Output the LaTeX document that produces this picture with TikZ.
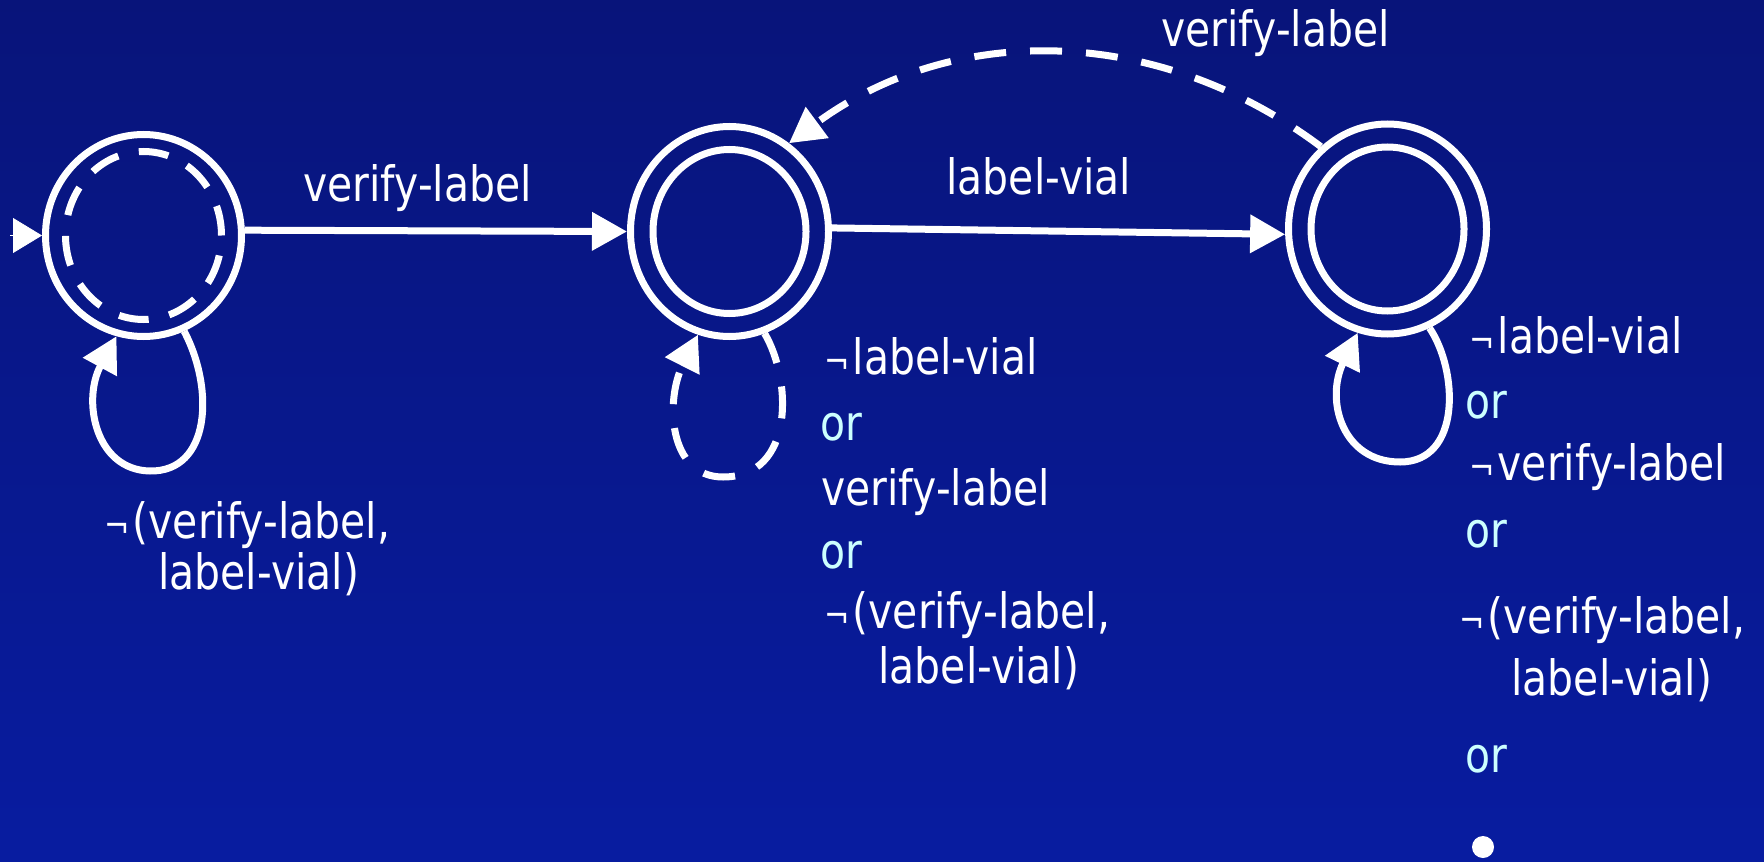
\documentclass[tikz,border=0pt]{standalone}
\usepackage{fontspec}
\setmainfont{DejaVu Sans}[FakeStretch=0.84]
\usetikzlibrary{arrows.meta,shapes.geometric}
\definecolor{bgtop}{RGB}{8,20,122}
\definecolor{bgbot}{RGB}{8,28,160}
\definecolor{orcol}{RGB}{204,255,255}
\newcommand\smallnot{{\fontsize{18pt}{20pt}\selectfont ¬}\hspace{1.5pt}}
\begin{document}
\begin{tikzpicture}[x=0.5pt,y=-0.5pt,
  stateouter/.style={ellipse, draw=white, line width=3.5pt, minimum width=99pt, minimum height=105pt, inner sep=0pt},
  stateinner/.style={ellipse, draw=white, line width=3.5pt, minimum width=76.5pt, minimum height=82pt, inner sep=0pt},
  dashedinner/.style={stateinner, dash pattern=on 15pt off 10.5pt},
  trans/.style={draw=white, line width=3.5pt, -{Triangle[length=17.5pt,width=18.5pt]}},
  dtrans/.style={trans, dash pattern=on 16pt off 12pt},
  lbl/.style={anchor=base west, inner sep=0pt, text=white, font=\fontsize{24.35pt}{30pt}\selectfont},
  orlbl/.style={lbl, text=orcol}
]
\shade[top color=bgtop, bottom color=bgbot] (0,0) rectangle (1764,861);
\useasboundingbox (0,0) rectangle (1764,861);

% states
\node[stateouter, minimum width=98pt, minimum height=101pt] (s1) at (143.5,235.5) {};
\node[dashedinner, minimum width=78pt, minimum height=84pt] (s1i) at (143.5,235.5) {};
\node[stateouter] (s2) at (729.5,231.5) {};
\node[stateinner] (s2i) at (729.5,231.5) {};
\node[stateouter] (s3) at (1387.5,229) {};
\node[stateinner] (s3i) at (1387.5,229) {};

% initial arrow
\coordinate (init) at (10,235.5);
\draw[draw=white, fill=white, line width=0.4pt, -{Triangle[length=14.5pt,width=17.5pt]}] (init) -- (s1.west);

% transitions
\draw[trans] (s1.3) -- (s2.west);
\node[lbl] (l12) at (303,201) {verify-label};
\draw[trans] (s2.2) -- (s3.183);
\node[lbl] (l23) at (946,195) {label-vial};
\draw[dtrans] (s3.129) .. controls (1156,23) and (952,23) .. (s2.56);
\node[lbl] (l32) at (1161,47) {verify-label};

% self loops
\draw[trans] (s1.-67) .. controls (215,390) and (210,472) .. (150,471) .. controls (95,470) and (82,400) .. (s1.-105);
\draw[dtrans] (s2.-71) .. controls (792,380) and (795,477) .. (723,477) .. controls (668,477) and (665,400) .. (s2.-107);
\draw[trans] (s3.-67) .. controls (1458,370) and (1462,462) .. (1400,462) .. controls (1342,462) and (1325,400) .. (s3.-106);

% loop labels state 1
\node[lbl] (a1) at (104,538) {\smallnot(verify-label,};
\node[lbl] (a2) at (158,589) {label-vial)};

% loop labels state 2
\node[lbl] (b1) at (824,374) {\smallnot label-vial};
\node[orlbl] (b2) at (820,440) {or};
\node[lbl] (b3) at (821,505) {verify-label};
\node[orlbl] (b4) at (820,568) {or};
\node[lbl] (b5) at (824,628) {\smallnot(verify-label,};
\node[lbl] (b6) at (878,683) {label-vial)};

% loop labels state 3
\node[lbl] (c1) at (1469,353) {\smallnot label-vial};
\node[orlbl] (c2) at (1465,418) {or};
\node[lbl] (c3) at (1469,480) {\smallnot verify-label};
\node[orlbl] (c4) at (1465,547) {or};
\node[lbl] (c5) at (1459,633) {\smallnot(verify-label,};
\node[lbl] (c6) at (1511,695) {label-vial)};
\node[orlbl] (c7) at (1465,772) {or};
\node[circle, fill=white, minimum size=11pt, inner sep=0pt] (dot) at (1483,847) {};
\end{tikzpicture}
\end{document}
